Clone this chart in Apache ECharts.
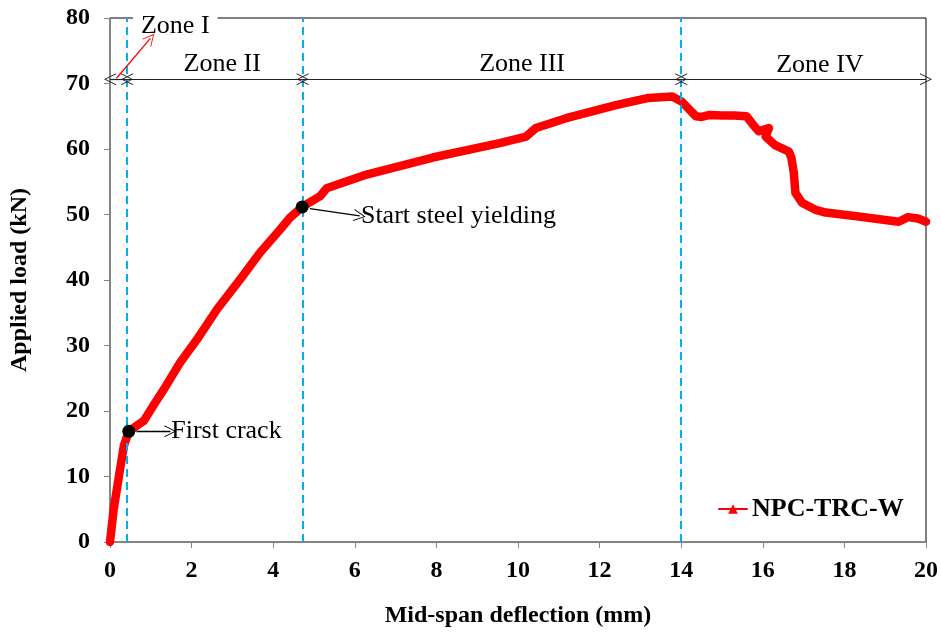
<!DOCTYPE html>
<html>
<head>
<meta charset="utf-8">
<script src="https://cdn.jsdelivr.net/npm/echarts@6/dist/echarts.min.js"></script>
<style>html,body{margin:0;padding:0;background:#fff}#c{width:941px;height:633px}</style>
</head>
<body>
<div id="c"></div>
<script>
const seriesName = 'NPC-TRC-W';
const deflection = [0, 0.09, 0.22, 0.34, 0.46, 0.83, 1.11, 1.32, 1.72, 2.13, 2.62, 3.19, 3.68, 4.17, 4.41, 4.71,
  5.15, 5.31, 6.29, 7.91, 9.55, 10.2, 10.44, 11.18, 12.4, 13.2, 13.78, 14.02, 14.36, 14.5, 14.7, 15.0, 15.3, 15.6,
  15.83, 15.9, 16.15, 16.07, 16.3, 16.64, 16.7, 16.76, 16.8, 16.96, 17.3, 17.54, 18.35, 19.33, 19.56, 19.8, 20.0];
const load = [0, 5.0, 10.1, 14.7, 16.9, 18.5, 21.3, 23.3, 27.4, 30.9, 35.5, 40.1, 44.2, 47.7, 49.5, 51.15,
  52.8, 54.0, 56.1, 58.7, 60.9, 61.9, 63.2, 64.7, 66.7, 67.8, 68.0, 67.2, 65.0, 64.9, 65.2, 65.1, 65.1, 65.0,
  63.2, 62.7, 63.2, 61.9, 60.6, 59.6, 58.7, 56.4, 53.3, 51.8, 50.7, 50.3, 49.7, 48.9, 49.6, 49.4, 48.9];
const xTicks = {min: 0, max: 20, interval: 2};
const yTicks = {min: 0, max: 80, interval: 10};
const zoneBounds = [0, 0.42, 4.72, 14.0, 20];
const zoneNames = ['Zone I', 'Zone II', 'Zone III', 'Zone IV'];
const zoneLabelX = [1.6, 2.75, 10.1, 17.4];
const zoneLabelY = [78.8, 73.0, 72.9, 72.8];
const zoneArrowY = 70.65;
const keyPoints = [[0.46, 16.9], [4.71, 51.15]];
const keyNames = ['First crack', 'Start steel yielding'];
const keyArrowFrom = [[0.65, 16.9], [4.9, 50.9]];
const keyArrowTo = [[1.48, 16.9], [6.12, 49.8]];
const keyTextAt = [[1.5, 16.9], [6.15, 49.8]];
const zoneIArrow = [[0.16, 70.8], [0.99, 76.9]];

const FONT = 'Liberation Serif';
const chev = 'path://M0,10 L5,0 L10,10 L9.2,10 L5,1.6 L0.8,10 Z';
const curve = deflection.map((d, i) => [d, load[i]]);

const zoneArrowLines = [];
for (let i = 0; i < zoneNames.length; i++) {
  zoneArrowLines.push([{coord: [zoneBounds[i], zoneArrowY]}, {coord: [zoneBounds[i + 1], zoneArrowY]}]);
}
const zoneLabelData = zoneNames.map((n, i) => ({
  value: [zoneLabelX[i], zoneLabelY[i]],
  label: {
    show: true, formatter: n, position: 'inside', color: '#000', opacity: 1,
    fontFamily: FONT, fontSize: 26,
    backgroundColor: i === 0 ? '#fff' : 'transparent',
    padding: i === 0 ? [6, 8, 0, 8] : 0
  }
}));

const chart = echarts.init(document.getElementById('c'));
chart.setOption({
  animation: false,
  backgroundColor: '#fff',
  grid: {left: 109, right: 14, top: 18, bottom: 90, show: true, borderColor: '#000', borderWidth: 1},
  legend: {
    data: [seriesName], left: 713, top: 491, itemWidth: 28, itemHeight: 12, itemGap: 4,
    textStyle: {fontFamily: FONT, fontWeight: 'bold', fontSize: 26, color: '#000'},
    lineStyle: {width: 2}
  },
  xAxis: {
    type: 'value', min: xTicks.min, max: xTicks.max, interval: xTicks.interval,
    name: 'Mid-span deflection (mm)', nameLocation: 'middle', nameGap: 62,
    nameTextStyle: {fontFamily: FONT, fontWeight: 'bold', fontSize: 24, color: '#000'},
    axisLine: {show: true, lineStyle: {color: '#868686', width: 1.5}},
    axisTick: {show: true, inside: false, length: 6, lineStyle: {color: '#868686'}},
    axisLabel: {fontFamily: FONT, fontWeight: 'bold', fontSize: 24, color: '#000', margin: 17},
    splitLine: {show: false}
  },
  yAxis: {
    type: 'value', min: yTicks.min, max: yTicks.max, interval: yTicks.interval,
    name: 'Applied load (kN)', nameLocation: 'middle', nameGap: 78,
    nameTextStyle: {fontFamily: FONT, fontWeight: 'bold', fontSize: 24, color: '#000'},
    axisLine: {show: true, lineStyle: {color: '#868686', width: 1.5}},
    axisTick: {show: true, inside: false, length: 6, lineStyle: {color: '#868686'}},
    axisLabel: {fontFamily: FONT, fontWeight: 'bold', fontSize: 24, color: '#000', margin: 20},
    splitLine: {show: false}
  },
  series: [
    {
      name: seriesName, type: 'line', data: curve, symbol: 'triangle', symbolSize: 8,
      showSymbol: false, smooth: false, z: 3,
      itemStyle: {color: '#FF0000'},
      lineStyle: {color: '#FF0000', width: 8.5, join: 'round', cap: 'round'},
      markLine: {
        silent: true, symbol: 'none', label: {show: false},
        lineStyle: {color: '#00B0F0', width: 2, type: [8, 5], opacity: 1},
        data: zoneBounds.slice(1, 4).map(v => ({xAxis: v}))
      }
    },
    {
      name: 'zoneArrows', type: 'scatter', data: [], z: 4, itemStyle: {opacity: 1},
      markLine: {
        silent: true, symbol: [chev, chev], symbolSize: [12, 12], label: {show: false},
        lineStyle: {color: '#222', width: 1.2, type: 'solid', opacity: 1},
        data: zoneArrowLines
      }
    },
    {
      name: 'zoneText', type: 'scatter', symbolSize: 0, silent: true, z: 5, itemStyle: {opacity: 1},
      data: zoneLabelData
    },
    {
      name: 'zoneIArrow', type: 'scatter', data: [], z: 8, itemStyle: {opacity: 1},
      markLine: {
        silent: true, symbol: ['none', chev], symbolSize: 12, label: {show: false}, z: 8,
        lineStyle: {color: '#FF0000', width: 1.3, type: 'solid', opacity: 1},
        data: [[{coord: zoneIArrow[0]}, {coord: zoneIArrow[1]}]]
      }
    },
    {
      name: 'keyArrows', type: 'scatter', data: [], z: 4, itemStyle: {opacity: 1},
      markLine: {
        silent: true, symbol: ['none', chev], symbolSize: 12, label: {show: false},
        lineStyle: {color: '#000', width: 1.3, type: 'solid', opacity: 1},
        data: keyArrowFrom.map((p, i) => [{coord: p}, {coord: keyArrowTo[i]}])
      }
    },
    {
      name: 'keyPoints', type: 'scatter', data: keyPoints, symbol: 'circle', symbolSize: 13,
      itemStyle: {color: '#000', opacity: 1}, z: 6, silent: true
    },
    {
      name: 'keyText', type: 'scatter', symbolSize: 0, silent: true, z: 6, itemStyle: {opacity: 1},
      data: keyTextAt.map((p, i) => ({
        value: p,
        label: {show: true, position: 'right', distance: 0, formatter: keyNames[i], color: '#000', opacity: 1, fontFamily: FONT, fontSize: 26}
      }))
    }
  ]
});
</script>
</body>
</html>
